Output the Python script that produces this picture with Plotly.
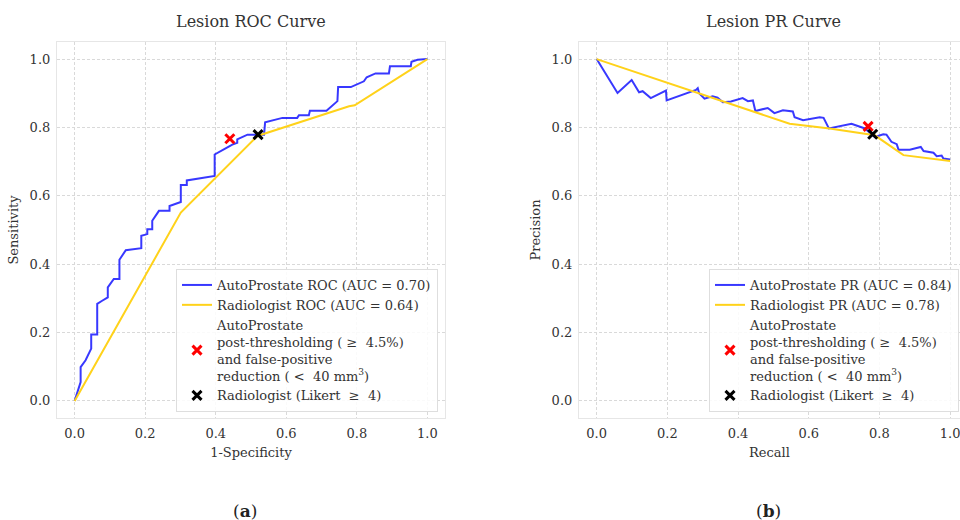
import plotly.graph_objects as go

# ---------------- data ----------------
roc_auto_fpr = [0.0, 0.017, 0.017, 0.031, 0.047, 0.047, 0.064, 0.064, 0.078, 0.094, 0.094, 0.111, 0.127,
                0.127, 0.145, 0.189, 0.189, 0.206, 0.206, 0.220, 0.220, 0.239, 0.269, 0.269, 0.301, 0.301,
                0.318, 0.318, 0.397, 0.397, 0.428, 0.447, 0.461, 0.461, 0.490, 0.537, 0.540, 0.589, 0.631,
                0.636, 0.664, 0.667, 0.714, 0.745, 0.747, 0.783, 0.820, 0.828, 0.853, 0.891, 0.894, 0.953,
                0.955, 0.972, 1.0]
roc_auto_tpr = [0.0, 0.055, 0.099, 0.119, 0.153, 0.194, 0.194, 0.284, 0.293, 0.303, 0.332, 0.357, 0.357,
                0.413, 0.441, 0.447, 0.483, 0.488, 0.502, 0.502, 0.527, 0.556, 0.556, 0.570, 0.582, 0.632,
                0.632, 0.645, 0.658, 0.721, 0.739, 0.750, 0.755, 0.765, 0.779, 0.779, 0.815, 0.828, 0.828,
                0.836, 0.836, 0.849, 0.849, 0.877, 0.918, 0.918, 0.935, 0.947, 0.958, 0.958, 0.979, 0.979,
                0.992, 0.998, 1.0]
roc_rad_fpr = [0.0, 0.301, 0.518, 0.778, 0.794, 1.0]
roc_rad_tpr = [0.0, 0.551, 0.775, 0.862, 0.865, 1.0]

pr_auto_recall = [0.0, 0.059, 0.099, 0.120, 0.130, 0.153, 0.196, 0.198, 0.281, 0.286, 0.290, 0.305, 0.328,
                  0.342, 0.357, 0.380, 0.413, 0.428, 0.442, 0.449, 0.484, 0.494, 0.503, 0.527, 0.555, 0.560,
                  0.584, 0.631, 0.642, 0.657, 0.688, 0.721, 0.759, 0.787, 0.811, 0.820, 0.834, 0.849, 0.854,
                  0.886, 0.917, 0.925, 0.953, 0.962, 0.976, 0.981, 1.0]
pr_auto_precision = [1.0, 0.901, 0.939, 0.903, 0.906, 0.886, 0.908, 0.879, 0.910, 0.915, 0.900, 0.884, 0.891,
                     0.887, 0.874, 0.876, 0.886, 0.877, 0.879, 0.848, 0.857, 0.850, 0.842, 0.850, 0.847, 0.830,
                     0.821, 0.830, 0.828, 0.797, 0.803, 0.811, 0.797, 0.772, 0.780, 0.779, 0.758, 0.751, 0.735,
                     0.735, 0.743, 0.731, 0.726, 0.716, 0.718, 0.709, 0.706]
pr_rad_recall = [0.0, 0.546, 0.659, 0.787, 0.868, 1.0]
pr_rad_precision = [1.0, 0.811, 0.797, 0.777, 0.719, 0.702]

roc_auto_point = (0.44, 0.767)
roc_rad_point = (0.52, 0.779)
pr_auto_point = (0.768, 0.803)
pr_rad_point = (0.781, 0.780)

roc_names = ["AutoProstate ROC (AUC = 0.70)", "Radiologist ROC (AUC = 0.64)"]
pr_names = ["AutoProstate PR (AUC = 0.84)", "Radiologist PR (AUC = 0.78)"]
auto_point_name = ("AutoProstate<br>post-thresholding ( \u2265  4.5%)<br>and false-positive<br>"
                   "reduction ( <  40 mm<sup>3</sup>)")
rad_point_name = "Radiologist (Likert  \u2265  4)"
tick_vals = [0.0, 0.2, 0.4, 0.6, 0.8, 1.0]
tick_text = ["0.0", "0.2", "0.4", "0.6", "0.8", "1.0"]

BLUE = "rgba(0,0,255,0.78)"
YELLOW = "#ffd21a"
FONT = "DejaVu Serif"
TXT = "#333333"

fig = go.Figure()

def add_panel(xa, ya, legend, auto_x, auto_y, rad_x, rad_y, names, p_auto, p_rad):
    fig.add_trace(go.Scatter(x=auto_x, y=auto_y, mode="lines", name=names[0],
                             line=dict(color=BLUE, width=2), xaxis=xa, yaxis=ya, legend=legend))
    fig.add_trace(go.Scatter(x=rad_x, y=rad_y, mode="lines", name=names[1],
                             line=dict(color=YELLOW, width=2), xaxis=xa, yaxis=ya, legend=legend))
    fig.add_trace(go.Scatter(x=[p_auto[0]], y=[p_auto[1]], mode="markers", name=auto_point_name,
                             marker=dict(symbol="x-thin", size=9, color="red",
                                         line=dict(color="red", width=3)),
                             xaxis=xa, yaxis=ya, legend=legend))
    fig.add_trace(go.Scatter(x=[p_rad[0]], y=[p_rad[1]], mode="markers", name=rad_point_name,
                             marker=dict(symbol="x-thin", size=9, color="black",
                                         line=dict(color="black", width=3)),
                             xaxis=xa, yaxis=ya, legend=legend))

add_panel("x", "y", "legend", roc_auto_fpr, roc_auto_tpr, roc_rad_fpr, roc_rad_tpr,
          roc_names, roc_auto_point, roc_rad_point)
add_panel("x2", "y2", "legend2", pr_auto_recall, pr_auto_precision, pr_rad_recall, pr_rad_precision,
          pr_names, pr_auto_point, pr_rad_point)

ydom = [(520 - 418) / 520, (520 - 42) / 520]
axis_common = dict(tickvals=tick_vals, ticktext=tick_text, showgrid=True, gridcolor="#d9d9d9",
                   griddash="3px,2px", gridwidth=0.8, showline=True, linecolor="#e6e6e6", linewidth=1.2,
                   mirror=True, zeroline=False, ticks="", ticklabelstandoff=3, ticklabeloverflow="allow",
                   tickfont=dict(size=13, color=TXT, family=FONT))

legend_common = dict(yanchor="bottom", xanchor="right", bgcolor="rgba(255,255,255,0.85)",
                     bordercolor="#dedede", borderwidth=1, valign="middle",
                     font=dict(size=13, family=FONT, color=TXT))

fig.update_layout(
    width=960, height=520, margin=dict(l=0, r=0, t=0, b=0),
    paper_bgcolor="white", plot_bgcolor="white",
    font=dict(family=FONT, color=TXT, size=13),
    xaxis=dict(domain=[57 / 960, 445 / 960], range=[-0.05, 1.05],
               title=dict(text="1-Specificity", standoff=8, font=dict(size=13)), **axis_common),
    yaxis=dict(domain=ydom, range=[-0.05, 1.05],
               title=dict(text="Sensitivity", standoff=8, font=dict(size=13)), **axis_common),
    xaxis2=dict(domain=[579 / 960, 1.0], range=[-0.05, 1.028], anchor="y2",
                title=dict(text="Recall", standoff=8, font=dict(size=13)), **axis_common),
    yaxis2=dict(domain=ydom, range=[-0.05, 1.05], anchor="x2",
                title=dict(text="Precision", standoff=8, font=dict(size=13)), **axis_common),
    legend=dict(x=438 / 960, y=(520 - 412) / 520, **legend_common),
    legend2=dict(x=959 / 960, y=(520 - 412) / 520, **legend_common),
    showlegend=True,
)

ann_common = dict(xref="paper", yref="paper", xanchor="center", yanchor="middle", showarrow=False)
fig.add_annotation(text="Lesion ROC Curve", x=251 / 960, y=1 - 22 / 520,
                   font=dict(size=16, family=FONT, color=TXT), **ann_common)
fig.add_annotation(text="Lesion PR Curve", x=773 / 960, y=1 - 22 / 520,
                   font=dict(size=16, family=FONT, color=TXT), **ann_common)
fig.add_annotation(text="(<b>a</b>)", x=245 / 960, y=1 - 511 / 520,
                   font=dict(size=17, family=FONT, color="#222222"), **ann_common)
fig.add_annotation(text="(<b>b</b>)", x=768 / 960, y=1 - 511 / 520,
                   font=dict(size=17, family=FONT, color="#222222"), **ann_common)

fig.write_html("out.html", config={"displayModeBar": False},
               post_script="document.body.style.margin='0';document.body.style.overflow='hidden';")
